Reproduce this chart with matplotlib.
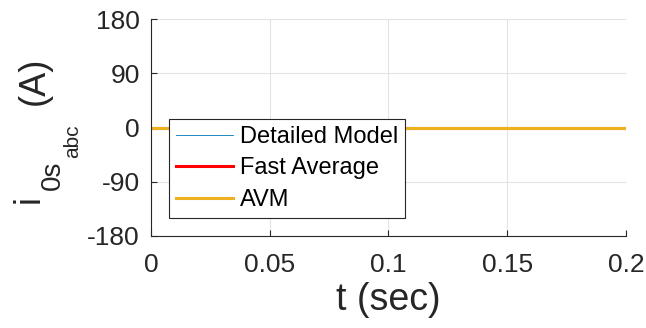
import numpy as np
import matplotlib
matplotlib.use("Agg")
import matplotlib.pyplot as plt

plt.rcParams["font.family"] = ["Liberation Sans", "DejaVu Sans"]
plt.rcParams["axes.unicode_minus"] = False

# zero-sequence stator current, all three models sit at 0 A
t = [0.0, 0.2]
i_detailed = [0.0, 0.0]
i_fast = [0.0, 0.0]
i_avm = [0.0, 0.0]

xticks = [0, 0.05, 0.1, 0.15, 0.2]
xtick_labels = ["0", "0.05", "0.1", "0.15", "0.2"]
yticks = [-180, -90, 0, 90, 180]

W, H = 646, 328
fig = plt.figure(figsize=(W / 100, H / 100), dpi=100)
ax = fig.add_axes([0.2337, 0.2805, 0.7353, 0.6615])

ax.plot(t, i_detailed, color="#0072BD", lw=0.6, label="Detailed Model")
ax.plot(t, i_fast, color="#FF0000", lw=2.2, label="Fast Average")
ax.plot(t, i_avm, color="#EDB120", lw=2.2, label="AVM")

ax.set_xlim(0, 0.2)
ax.set_ylim(-180, 180)
ax.set_xticks(xticks)
ax.set_xticklabels(xtick_labels)
ax.set_yticks(yticks)
ax.grid(True, color="#e3e3e3", lw=0.8)
ax.set_axisbelow(True)

for s in ["top", "right"]:
    ax.spines[s].set_visible(False)
for s in ["left", "bottom"]:
    ax.spines[s].set_color("#262626")
    ax.spines[s].set_linewidth(0.8)
ax.tick_params(direction="in", length=4, width=0.8, colors="#262626",
               labelsize=19, pad=8)
ax.tick_params(axis="x", pad=12)

ax.set_xlabel("t (sec)", fontsize=27, color="#262626", labelpad=4)


# y label built from pieces so the nested subscripts get MATLAB-like size/offset
def ylab(px, py, s, size):
    fig.text(px / W, 1 - py / H, s, fontsize=size, color="#262626", rotation=90,
             rotation_mode="anchor", ha="left", va="baseline")


ylab(39, 203, "i", 26)
ylab(60, 190, "0s", 20)
ylab(78, 158, "abc", 15)
ylab(44, 105, "(A)", 26)

leg = ax.legend(loc="lower left", bbox_to_anchor=(0.038, 0.083), borderaxespad=0,
                fontsize=17, handlelength=2.4, labelspacing=0.4, handletextpad=0.3,
                borderpad=0.3, fancybox=False, framealpha=1)
leg.get_frame().set_edgecolor("#262626")
leg.get_frame().set_linewidth(0.8)

fig.savefig("out.png", dpi=100)
